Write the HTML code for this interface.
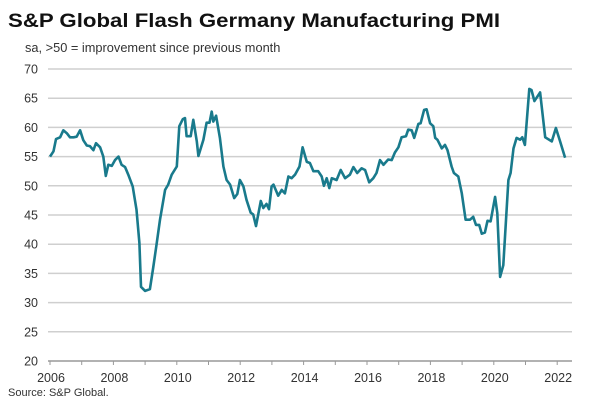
<!DOCTYPE html>
<html><head><meta charset="utf-8"><style>
body{margin:0;background:#fff;}
svg{display:block;font-family:"Liberation Sans",Arial,sans-serif;}
</style></head><body>
<svg id="c" width="600" height="418" viewBox="0 0 600 418">
<text x="8" y="27" font-size="19" font-weight="bold" fill="#111" textLength="492" lengthAdjust="spacingAndGlyphs">S&amp;P Global Flash Germany Manufacturing PMI</text>
<text x="25" y="52" font-size="12.8" fill="#333">sa, &gt;50 = improvement  since previous month</text>
<text x="8" y="396" font-size="11" fill="#333">Source: S&amp;P Global.</text>
<g id="grid"></g><g id="xaxis"></g><g id="series"></g>
</svg>
<script>
const yTicks=[20,25,30,35,40,45,50,55,60,65,70];
const xTickLabels=[2006,2008,2010,2012,2014,2016,2018,2020,2022];
const dates=[2006.00,2006.11,2006.19,2006.32,2006.42,2006.53,2006.63,2006.74,2006.84,2006.95,2007.05,2007.16,2007.26,2007.37,2007.45,2007.58,2007.68,2007.76,2007.84,2007.95,2008.05,2008.16,2008.26,2008.37,2008.47,2008.61,2008.73,2008.82,2008.87,2009.00,2009.15,2009.26,2009.36,2009.47,2009.63,2009.73,2009.84,2010.00,2010.08,2010.19,2010.26,2010.31,2010.44,2010.52,2010.63,2010.68,2010.84,2010.94,2011.03,2011.10,2011.15,2011.24,2011.36,2011.47,2011.57,2011.68,2011.81,2011.91,2011.99,2012.10,2012.20,2012.33,2012.41,2012.50,2012.65,2012.73,2012.83,2012.91,2012.99,2013.05,2013.20,2013.31,2013.41,2013.52,2013.62,2013.73,2013.87,2013.97,2014.10,2014.20,2014.31,2014.46,2014.57,2014.64,2014.73,2014.81,2014.89,2015.04,2015.17,2015.31,2015.46,2015.57,2015.69,2015.83,2015.94,2016.07,2016.20,2016.30,2016.41,2016.52,2016.67,2016.78,2016.88,2016.99,2017.09,2017.23,2017.30,2017.41,2017.49,2017.62,2017.69,2017.80,2017.88,2017.99,2018.09,2018.15,2018.22,2018.36,2018.46,2018.54,2018.67,2018.74,2018.88,2018.99,2019.11,2019.25,2019.35,2019.44,2019.54,2019.62,2019.72,2019.80,2019.90,2020.04,2020.11,2020.20,2020.30,2020.46,2020.53,2020.62,2020.72,2020.83,2020.90,2020.98,2021.12,2021.19,2021.28,2021.46,2021.62,2021.83,2021.96,2022.09,2022.25];
const values=[55,55.9,58,58.3,59.5,59,58.3,58.3,58.4,59.5,57.8,56.9,56.8,56.1,57.3,56.6,55,51.7,53.6,53.4,54.4,55,53.6,53.2,51.9,49.9,45.9,40.2,32.7,32,32.3,36.1,39.9,44.2,49.3,50.2,51.9,53.3,60.2,61.4,61.6,58.5,58.5,61.3,57.6,55.1,57.9,60.8,60.8,62.7,61,62,58.2,53.3,51,50.2,47.9,48.6,51,49.9,47.6,45.4,45.1,43.1,47.4,46.2,46.9,46,49.9,50.2,48.3,49.3,48.7,51.6,51.3,51.9,53.3,56.6,54.1,53.9,52.5,52.5,51.6,50,51.3,49.6,51.3,51,52.7,51.3,51.9,53.2,52.2,53,52.7,50.6,51.3,52.2,54.4,53.6,54.5,54.4,55.7,56.6,58.3,58.5,59.6,59.5,58.2,60.6,60.7,63,63.1,60.7,60.2,58.2,57.9,56.4,57,56.1,53.3,52.2,51.6,48.7,44.2,44.2,44.7,43.3,43.3,41.8,42,44,43.9,48.1,45.3,34.4,36.4,51,52.2,56.4,58.2,57.9,58.3,57,66.6,66.4,64.5,66,58.3,57.6,59.9,57.6,54.8];
const NS='http://www.w3.org/2000/svg';
const X=y=>50+(y-2006)*31.7;
const Y=v=>361-(v-20)*5.84;
const grid=document.getElementById('grid'),xa=document.getElementById('xaxis'),se=document.getElementById('series');
function mk(tag,attrs,parent){const e=document.createElementNS(NS,tag);for(const k in attrs)e.setAttribute(k,attrs[k]);parent.appendChild(e);return e;}
yTicks.forEach(v=>{
  const l=mk('line',{x1:48,x2:572,y1:Y(v),y2:Y(v),stroke:v===20?'#999':'#cfcfcf','stroke-width':1.5},grid);
  
  
  const t=mk('text',{x:38,y:Y(v)+4.5,'text-anchor':'end','font-size':12.5,fill:'#333'},grid);
  t.textContent=v;
  
  
});
for(let yr=2006;yr<=2022;yr++){
  const tk=mk('line',{x1:X(yr),x2:X(yr),y1:361,y2:365,stroke:'#999','stroke-width':1},xa);
  
  
}
xTickLabels.forEach(yr=>{
  const t=mk('text',{x:X(yr)+1,y:382,'text-anchor':'middle','font-size':12.5,fill:'#333'},xa);
  t.textContent=yr;
  
  
});
const d=dates.map((t,i)=>(i?'L':'M')+X(t).toFixed(1)+','+Y(values[i]).toFixed(1)).join(' ');
const p=mk('path',{d:d,fill:'none',stroke:'#197a8c','stroke-width':2.6,'stroke-linejoin':'round'},se);


</script>
</body></html>
